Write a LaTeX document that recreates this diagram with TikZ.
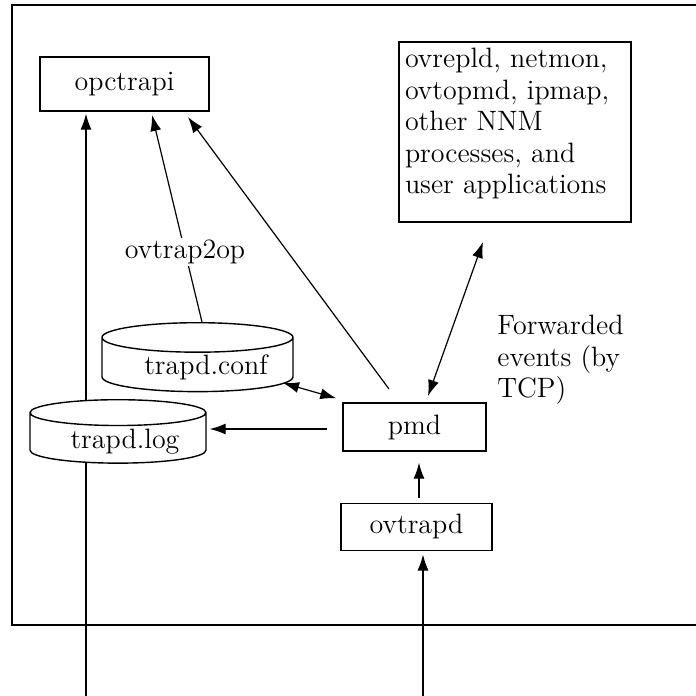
\documentclass[tikz,border=0pt]{standalone}
\usetikzlibrary{arrows.meta,positioning,shapes.geometric}
\tikzset{
  proc/.style={draw, line width=0.7pt, fill=white, inner sep=2pt},
  store/.style={cylinder, shape border rotate=90, draw, line width=0.7pt, fill=white, aspect=0.21, inner sep=0pt, text height=11pt, text depth=1pt, anchor=north},
  flow/.style={-{Latex[length=8pt,width=5.5pt]}, line width=0.6pt},
  both/.style={{Latex[length=8pt,width=5.5pt]}-{Latex[length=8pt,width=5.5pt]}, line width=0.6pt}
}

\begin{document}
\begin{tikzpicture}[x=0.5pt, y=-0.5pt, font=\fontsize{14}{15.8}\selectfont]
  \useasboundingbox (0,0) rectangle (696,696);
  \draw[line width=0.6pt] (696,5) -- (12,5) -- (12,625) -- (696,625);

  \coordinate (logIn) at (86,696);
  \coordinate (trapIn) at (423,696);

  \node[proc, minimum width=84.5pt, minimum height=27pt] (opctrapi) at (124.5,84) {opctrapi};
  \node[proc, minimum width=71.5pt, minimum height=24pt] (pmd) at (414.5,427) {pmd};
  \node[proc, minimum width=75.5pt, minimum height=23.5pt, below=25.5pt of pmd, xshift=1pt] (ovtrapd) {ovtrapd};
  \node[proc, inner sep=3pt] (apps) at (515,132)
    {\parbox[c][84pt][t]{110pt}{\raggedright ovrepld, netmon,\\ovtopmd, ipmap,\\other NNM\\processes, and\\user applications}};

  % the log line runs behind trapd.log
  \draw[flow, shorten >=1pt] (logIn) -- (logIn |- opctrapi.south);

  \node[store, minimum width=95.5pt] (conf) at (197.5,322) {\hspace*{8.5pt}trapd.conf};
  \node[store, minimum width=88pt] (log) at (118,399) {\hspace*{7pt}trapd.log};

  \node[anchor=north west, inner sep=0pt, align=left] (fwd) at (497,314.6) {Forwarded\\events (by\\TCP)};

  \draw[flow, shorten >=1.7pt] (trapIn) -- (trapIn |- ovtrapd.south);
  \draw[flow, shorten <=2.5pt, shorten >=5.5pt] ([xshift=1.25pt]ovtrapd.north) -- ([xshift=2.25pt]pmd.south);
  \draw[flow, shorten <=7.5pt, shorten >=1.5pt] ([yshift=-1pt]pmd.west) -- ([yshift=-1pt]pmd.west -| log.east);
  \draw[both] ([xshift=-3pt,yshift=2pt]pmd.north west) -- ([xshift=42.75pt,yshift=-30.5pt]conf.north);
  \draw[flow] ([xshift=-12.75pt,yshift=19pt]pmd.center) -- ([xshift=31.75pt,yshift=-16.5pt]opctrapi.center);
  \draw[flow] ([xshift=2.25pt]conf.north) -- node[pos=0.34, fill=white, inner sep=1pt] (op) {ovtrap2op} ([xshift=13.75pt,yshift=-15.5pt]opctrapi.center);
  \draw[both] ([xshift=6.75pt,yshift=15.5pt]pmd.center) -- ([xshift=-16pt,yshift=-55pt]apps.center);
\end{tikzpicture}
\end{document}
